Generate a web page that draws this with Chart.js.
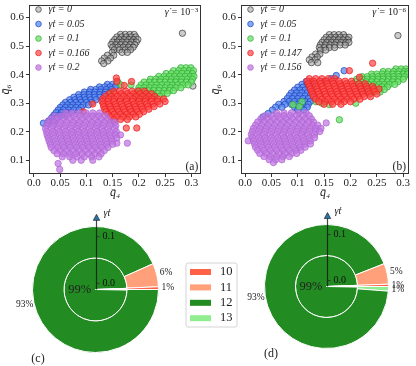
<!DOCTYPE html>
<html>
<head>
<meta charset="utf-8">
<script src="https://cdn.jsdelivr.net/npm/chart.js@4.4.0/dist/chart.umd.min.js"></script>
<style>
  html, body { margin: 0; padding: 0; background: #fff; }
  #wrap { position: relative; width: 416px; height: 366px; overflow: hidden; }
  canvas { position: absolute; }
</style>
</head>
<body>
<div id="wrap">
  <canvas id="chartA" width="206" height="200" style="left:0;top:0;width:206px;height:200px"></canvas>
  <canvas id="chartB" width="210" height="200" style="left:206px;top:0;width:210px;height:200px"></canvas>
  <canvas id="chartC" width="240" height="166" style="left:0;top:200px;width:240px;height:166px"></canvas>
  <canvas id="chartD" width="176" height="166" style="left:240px;top:200px;width:176px;height:166px"></canvas>
</div>
<script>
const FONT = "'Liberation Serif', 'DejaVu Serif', serif";

// ---- scatter panels (a) and (b) ----
const xTicks = [0, 0.05, 0.1, 0.15, 0.2, 0.25, 0.3];
const xTickLabels = ['0.0', '0.05', '0.1', '0.15', '0.2', '0.25', '0.3'];
const yTicks = [0.1, 0.2, 0.3, 0.4, 0.5, 0.6];
const yTickLabels = ['0.1', '0.2', '0.3', '0.4', '0.5', '0.6'];

const seriesA = ['γ̇t = 0', 'γ̇t = 0.05', 'γ̇t = 0.1', 'γ̇t = 0.166', 'γ̇t = 0.2'];
const seriesB = ['γ̇t = 0', 'γ̇t = 0.05', 'γ̇t = 0.1', 'γ̇t = 0.147', 'γ̇t = 0.156'];

// each row: [q6, q4, q4, ...]
const aGrey = [
  [0.541, 0.165, 0.174, 0.183, 0.191],
  [0.532, 0.158, 0.167, 0.176, 0.185, 0.194],
  [0.523, 0.154, 0.163, 0.172, 0.181, 0.190, 0.198],
  [0.514, 0.150, 0.159, 0.168, 0.177, 0.186, 0.195],
  [0.505, 0.147, 0.156, 0.165, 0.174, 0.183, 0.192],
  [0.496, 0.150, 0.160, 0.170, 0.180, 0.189],
  [0.487, 0.153, 0.163, 0.174, 0.184],
  [0.478, 0.149, 0.168, 0.178],
  [0.468, 0.140, 0.152],
  [0.458, 0.134, 0.146],
  [0.448, 0.129, 0.141],
  [0.439, 0.133],
  [0.545, 0.283],
  [0.360, 0.303]
];
const aBlue = [
  [0.366, 0.140, 0.150, 0.158],
  [0.357, 0.125, 0.135, 0.145, 0.155],
  [0.348, 0.108, 0.118, 0.128, 0.138, 0.148],
  [0.339, 0.096, 0.106, 0.116, 0.126, 0.136, 0.146],
  [0.330, 0.085, 0.095, 0.105, 0.115, 0.125, 0.135],
  [0.321, 0.076, 0.086, 0.096, 0.106, 0.116, 0.126],
  [0.312, 0.068, 0.078, 0.088, 0.098, 0.108, 0.118],
  [0.303, 0.060, 0.070, 0.080, 0.090, 0.100, 0.110],
  [0.294, 0.055, 0.064, 0.074, 0.084, 0.094, 0.104],
  [0.285, 0.050, 0.060, 0.070, 0.080, 0.090],
  [0.276, 0.046, 0.056, 0.066, 0.076, 0.086],
  [0.267, 0.042, 0.052, 0.062, 0.072],
  [0.258, 0.038, 0.048, 0.058],
  [0.249, 0.034, 0.044],
  [0.238, 0.028, 0.036],
  [0.230, 0.018, 0.026]
];
const aGreen = [
  [0.424, 0.280, 0.290, 0.299],
  [0.414, 0.266, 0.276, 0.286, 0.296, 0.304],
  [0.404, 0.252, 0.262, 0.272, 0.282, 0.292, 0.302],
  [0.394, 0.238, 0.248, 0.258, 0.268, 0.278, 0.288, 0.298, 0.305],
  [0.384, 0.222, 0.232, 0.242, 0.252, 0.262, 0.272, 0.282, 0.292, 0.302],
  [0.374, 0.210, 0.220, 0.230, 0.240, 0.250, 0.260, 0.270, 0.280, 0.290, 0.300, 0.160],
  [0.364, 0.204, 0.214, 0.224, 0.234, 0.244, 0.254, 0.264, 0.274, 0.284, 0.294, 0.166, 0.185],
  [0.354, 0.200, 0.210, 0.220, 0.230, 0.240, 0.250, 0.260, 0.270, 0.280],
  [0.344, 0.198, 0.208, 0.218, 0.228, 0.238, 0.248, 0.258, 0.266],
  [0.334, 0.196, 0.206, 0.216, 0.226, 0.236, 0.246, 0.254, 0.147],
  [0.324, 0.198, 0.208, 0.218, 0.230, 0.240],
  [0.316, 0.202, 0.214],
  [0.237, 0.153]
];
const aRed = [
  [0.388, 0.157],
  [0.376, 0.158, 0.186],
  [0.362, 0.172],
  [0.342, 0.152, 0.163, 0.175, 0.187, 0.199, 0.211],
  [0.333, 0.143, 0.154, 0.166, 0.178, 0.190, 0.202, 0.214, 0.224],
  [0.324, 0.136, 0.147, 0.159, 0.171, 0.183, 0.195, 0.207, 0.219, 0.230],
  [0.315, 0.131, 0.142, 0.153, 0.165, 0.177, 0.189, 0.201, 0.213, 0.225, 0.236, 0.247],
  [0.306, 0.130, 0.141, 0.152, 0.164, 0.176, 0.188, 0.200, 0.212, 0.224, 0.236, 0.250],
  [0.297, 0.132, 0.143, 0.155, 0.167, 0.179, 0.191, 0.203, 0.215, 0.227, 0.240, 0.112],
  [0.288, 0.133, 0.145, 0.157, 0.169, 0.181, 0.193, 0.205, 0.217, 0.229],
  [0.279, 0.135, 0.147, 0.159, 0.171, 0.183, 0.195, 0.207, 0.219],
  [0.270, 0.137, 0.149, 0.161, 0.173, 0.185, 0.197, 0.209, 0.094],
  [0.261, 0.141, 0.153, 0.165, 0.177, 0.189, 0.201],
  [0.252, 0.146, 0.158, 0.170, 0.182, 0.194],
  [0.243, 0.152, 0.165, 0.178],
  [0.213, 0.176, 0.196]
];
const aPurple = [
  [0.266, 0.060, 0.073, 0.086, 0.099, 0.112, 0.125],
  [0.255, 0.040, 0.052, 0.064, 0.076, 0.088, 0.100, 0.112, 0.124, 0.136],
  [0.244, 0.032, 0.044, 0.056, 0.068, 0.080, 0.092, 0.104, 0.116, 0.128, 0.140],
  [0.233, 0.026, 0.038, 0.050, 0.062, 0.074, 0.086, 0.098, 0.110, 0.122, 0.134, 0.146, 0.154],
  [0.222, 0.024, 0.036, 0.048, 0.060, 0.072, 0.084, 0.096, 0.108, 0.120, 0.132, 0.144, 0.156],
  [0.211, 0.022, 0.034, 0.046, 0.058, 0.070, 0.082, 0.094, 0.106, 0.118, 0.130, 0.142, 0.154],
  [0.200, 0.024, 0.036, 0.048, 0.060, 0.072, 0.084, 0.096, 0.108, 0.120, 0.132, 0.144, 0.157],
  [0.189, 0.025, 0.037, 0.049, 0.061, 0.073, 0.085, 0.097, 0.109, 0.121, 0.133, 0.145, 0.156, 0.165],
  [0.178, 0.027, 0.039, 0.051, 0.063, 0.075, 0.087, 0.099, 0.111, 0.123, 0.135, 0.147, 0.158],
  [0.167, 0.029, 0.041, 0.053, 0.065, 0.077, 0.089, 0.101, 0.113, 0.125, 0.137, 0.149],
  [0.160, 0.178, 0.158],
  [0.156, 0.031, 0.043, 0.055, 0.067, 0.079, 0.091, 0.103, 0.115, 0.127, 0.139, 0.150],
  [0.145, 0.033, 0.045, 0.057, 0.069, 0.081, 0.093, 0.105, 0.117, 0.129, 0.141],
  [0.134, 0.038, 0.050, 0.062, 0.074, 0.086, 0.098, 0.110, 0.122, 0.134],
  [0.123, 0.044, 0.056, 0.068, 0.080, 0.092, 0.104, 0.116, 0.128],
  [0.112, 0.054, 0.068, 0.082, 0.096, 0.110, 0.124],
  [0.100, 0.074, 0.090, 0.112],
  [0.089, 0.046],
  [0.068, 0.049]
];

const bGrey = [
  [0.540, 0.160, 0.169, 0.178, 0.187],
  [0.531, 0.154, 0.163, 0.172, 0.181, 0.190, 0.197],
  [0.522, 0.150, 0.159, 0.168, 0.177, 0.186, 0.195],
  [0.513, 0.146, 0.155, 0.164, 0.173, 0.182, 0.191, 0.197],
  [0.504, 0.143, 0.152, 0.161, 0.170, 0.180, 0.190],
  [0.495, 0.141, 0.150, 0.160, 0.170],
  [0.486, 0.143, 0.153],
  [0.472, 0.134, 0.142],
  [0.462, 0.127, 0.137],
  [0.452, 0.122, 0.133],
  [0.442, 0.126, 0.138],
  [0.537, 0.290]
];
const bBlue = [
  [0.414, 0.188],
  [0.397, 0.173],
  [0.386, 0.163],
  [0.376, 0.116, 0.126, 0.150],
  [0.366, 0.108, 0.118, 0.128],
  [0.356, 0.100, 0.110, 0.120, 0.130],
  [0.346, 0.094, 0.104, 0.114, 0.124],
  [0.336, 0.088, 0.098, 0.108, 0.118, 0.128],
  [0.326, 0.084, 0.094, 0.104, 0.114, 0.124],
  [0.316, 0.080, 0.090, 0.100, 0.110, 0.120, 0.130],
  [0.306, 0.074, 0.084, 0.094, 0.104, 0.114, 0.124],
  [0.296, 0.064, 0.076, 0.088, 0.100, 0.110, 0.120],
  [0.286, 0.058, 0.070, 0.094, 0.106, 0.118],
  [0.276, 0.052, 0.100, 0.112],
  [0.264, 0.044],
  [0.252, 0.034]
];
const bGreen = [
  [0.420, 0.286, 0.296, 0.305],
  [0.411, 0.262, 0.272, 0.282, 0.292, 0.302, 0.309],
  [0.402, 0.240, 0.250, 0.260, 0.270, 0.280, 0.290, 0.300, 0.308],
  [0.393, 0.222, 0.232, 0.242, 0.252, 0.262, 0.272, 0.282, 0.292, 0.302],
  [0.384, 0.212, 0.222, 0.232, 0.242, 0.252, 0.262, 0.272, 0.282, 0.292, 0.300],
  [0.375, 0.210, 0.220, 0.230, 0.240, 0.250, 0.260, 0.270, 0.280, 0.290],
  [0.366, 0.214, 0.224, 0.234, 0.244, 0.254, 0.264, 0.274, 0.284],
  [0.357, 0.220, 0.230, 0.240, 0.250, 0.260, 0.270],
  [0.348, 0.226, 0.236, 0.246, 0.256, 0.264],
  [0.339, 0.232, 0.244, 0.256],
  [0.305, 0.135, 0.108],
  [0.300, 0.146, 0.210],
  [0.295, 0.091, 0.160],
  [0.288, 0.103],
  [0.242, 0.179]
];
const bRed = [
  [0.440, 0.242],
  [0.414, 0.198],
  [0.391, 0.217],
  [0.386, 0.122, 0.134, 0.146, 0.158, 0.170],
  [0.377, 0.118, 0.130, 0.142, 0.154, 0.166, 0.178, 0.190, 0.202],
  [0.368, 0.120, 0.132, 0.144, 0.156, 0.168, 0.180, 0.192, 0.204, 0.216, 0.228],
  [0.359, 0.122, 0.134, 0.146, 0.158, 0.170, 0.182, 0.194, 0.206, 0.218, 0.230, 0.242],
  [0.350, 0.124, 0.136, 0.148, 0.160, 0.172, 0.184, 0.196, 0.208, 0.220, 0.232, 0.244, 0.254],
  [0.341, 0.126, 0.138, 0.150, 0.162, 0.174, 0.186, 0.198, 0.210, 0.222, 0.234, 0.246],
  [0.332, 0.128, 0.140, 0.152, 0.164, 0.176, 0.188, 0.200, 0.212, 0.224, 0.236, 0.250],
  [0.323, 0.130, 0.142, 0.154, 0.166, 0.178, 0.190, 0.202, 0.214, 0.226, 0.238],
  [0.314, 0.134, 0.146, 0.158, 0.170, 0.182, 0.194, 0.206, 0.218],
  [0.305, 0.140, 0.152, 0.164, 0.176, 0.188, 0.200],
  [0.296, 0.150, 0.166, 0.182]
];
const bPurple = [
  [0.266, 0.060, 0.074, 0.088, 0.102, 0.116],
  [0.256, 0.038, 0.050, 0.062, 0.074, 0.086, 0.098, 0.110, 0.122],
  [0.245, 0.030, 0.042, 0.054, 0.066, 0.078, 0.090, 0.102, 0.114, 0.126],
  [0.234, 0.024, 0.036, 0.048, 0.060, 0.072, 0.084, 0.096, 0.108, 0.120, 0.130],
  [0.231, 0.154],
  [0.223, 0.020, 0.032, 0.044, 0.056, 0.068, 0.080, 0.092, 0.104, 0.116, 0.128, 0.138],
  [0.212, 0.016, 0.028, 0.040, 0.052, 0.064, 0.076, 0.088, 0.100, 0.112, 0.124, 0.134, 0.144],
  [0.201, 0.014, 0.026, 0.038, 0.050, 0.062, 0.074, 0.086, 0.098, 0.110, 0.122, 0.134, 0.142],
  [0.190, 0.012, 0.024, 0.036, 0.048, 0.060, 0.072, 0.084, 0.096, 0.108, 0.120, 0.132],
  [0.179, 0.014, 0.026, 0.038, 0.050, 0.062, 0.074, 0.086, 0.098, 0.110, 0.122, 0.132],
  [0.168, 0.006, 0.016, 0.028, 0.040, 0.052, 0.064, 0.076, 0.088, 0.100, 0.112, 0.124],
  [0.157, 0.018, 0.030, 0.042, 0.054, 0.066, 0.078, 0.090, 0.102, 0.114, 0.124],
  [0.146, 0.020, 0.032, 0.044, 0.056, 0.068, 0.080, 0.092, 0.104, 0.114],
  [0.135, 0.024, 0.036, 0.048, 0.060, 0.072, 0.084, 0.096, 0.106],
  [0.124, 0.028, 0.040, 0.052, 0.064, 0.076, 0.088, 0.098],
  [0.113, 0.036, 0.048, 0.060, 0.072, 0.084],
  [0.102, 0.046, 0.058, 0.070],
  [0.092, 0.054]
];

const pointFill = ['rgba(160,160,160,0.55)', 'rgba(90,140,240,0.75)', 'rgba(105,225,105,0.75)', 'rgba(255,70,70,0.72)', 'rgba(190,118,225,0.72)'];
const pointEdge = ['rgba(40,40,40,0.9)', '#1f3fbf', '#34a834', '#e81e1e', '#b263d6'];

// ---- pies (c) and (d) ----
const pieCategories = ['10', '11', '12', '13'];
const pieColors = ['#ff6347', '#ffa07a', '#228b22', '#90ee90'];
const outerC = [0.7, 6.0, 93.3, 0];
const innerC = [0.3, 0.3, 99.1, 0.3];
const outerD = [0.6, 5.4, 92.8, 1.2];
const innerD = [0.3, 0.3, 99.1, 0.3];
const rTicks = [0.0, 0.1];
const rTickLabels = ['0.0', '0.1'];
const rRange = [-0.013, 0.122];
const rArrow = 0.148;

const toPoints = rows => rows.flatMap(([y, ...xs]) => xs.map(x => ({ x, y })));

const panelText = {
  id: 'panelText',
  afterDraw(chart, args, opts) {
    const { ctx, chartArea: a } = chart;
    ctx.save();
    ctx.strokeStyle = '#333';
    ctx.lineWidth = 1;
    ctx.strokeRect(Math.round(a.left) + 0.5, Math.round(a.top) + 0.5,
      Math.round(a.right - a.left) - 1, Math.round(a.bottom - a.top) - 1);
    ctx.fillStyle = '#222';
    ctx.textBaseline = 'middle';
    ctx.textAlign = 'right';
    let x = a.right - 3;
    ctx.font = '7px ' + FONT;
    ctx.fillText(opts.rate, x, a.top + 5);
    x -= ctx.measureText(opts.rate).width + 0.5;
    ctx.font = '10px ' + FONT;
    ctx.fillText('10', x, a.top + 8);
    x -= ctx.measureText('10').width;
    ctx.font = 'italic 10px ' + FONT;
    ctx.fillText('γ̇ = ', x, a.top + 8);
    ctx.font = '11.5px ' + FONT;
    ctx.fillText(opts.panel, a.right - 3, a.bottom - 7);
    ctx.restore();
  }
};

function scatterChart(id, labels, groups, xMin, xMax, axisW, padRight, yTitlePad, rate, panel) {
  const datasets = groups.map((rows, i) => ({
    label: labels[i],
    data: toPoints(rows),
    backgroundColor: pointFill[i],
    borderColor: pointEdge[i],
    borderWidth: 0.7,
    pointRadius: 3.2,
    order: groups.length - 1 - i
  }));
  const tickFont = { family: FONT, size: 11 };
  return new Chart(document.getElementById(id), {
    type: 'scatter',
    data: { datasets },
    options: {
      responsive: false,
      animation: false,
      events: [],
      layout: { padding: { left: 0, top: 1, right: padRight, bottom: 0 } },
      scales: {
        x: {
          type: 'linear', min: xMin, max: xMax,
          afterBuildTicks: s => { s.ticks = xTicks.map(v => ({ value: v })); },
          afterFit: s => { s.height = 26; s.paddingLeft = 0; s.paddingRight = 0; },
          ticks: { callback: (v, i) => xTickLabels[i], font: tickFont, color: '#222', padding: 0, maxRotation: 0, autoSkip: false },
          grid: { drawOnChartArea: false, tickLength: 3, color: '#333' },
          border: { display: false },
          title: { display: true, text: 'q̄₄', color: '#222', font: { family: FONT, size: 12, style: 'italic', lineHeight: 1 }, padding: { top: 0, bottom: 1 } }
        },
        y: {
          type: 'linear', min: 0.052, max: 0.645,
          afterBuildTicks: s => { s.ticks = yTicks.map(v => ({ value: v })); },
          afterFit: s => { s.width = axisW; s.paddingTop = 0; s.paddingBottom = 0; },
          ticks: { callback: (v, i) => yTickLabels[i], font: tickFont, color: '#222', padding: 2, autoSkip: false },
          grid: { drawOnChartArea: false, tickLength: 3, color: '#333' },
          border: { display: false },
          title: { display: true, text: 'q̄₆', color: '#222', font: { family: FONT, size: 12, style: 'italic', lineHeight: 1 }, padding: { top: yTitlePad, bottom: 0 } }
        }
      },
      plugins: {
        legend: {
          position: 'chartArea', align: 'start',
          labels: {
            usePointStyle: true, pointStyle: 'circle', boxWidth: 10, boxHeight: 4, padding: 4.5, color: '#222',
            font: { family: FONT, size: 10, style: 'italic' },
            sort: (p, q) => p.datasetIndex - q.datasetIndex
          }
        },
        tooltip: { enabled: false },
        panelText: { rate, panel }
      }
    },
    plugins: [panelText]
  });
}

scatterChart('chartA', seriesA, [aGrey, aBlue, aGreen, aRed, aPurple], -0.0095, 0.319, 29, 4, 0, '−3', '(a)');
scatterChart('chartB', seriesB, [bGrey, bBlue, bGreen, bRed, bPurple], -0.0076, 0.311, 35, 7, 4, '−6', '(b)');

const pieText = {
  id: 'pieText',
  afterDraw(chart, args, opts) {
    const ctx = chart.ctx;
    ctx.save();
    ctx.fillStyle = '#222';
    ctx.textAlign = 'center';
    ctx.textBaseline = 'middle';
    // percentages
    chart.data.datasets.forEach((ds, di) => {
      const meta = chart.getDatasetMeta(di);
      const total = ds.data.reduce((s, v) => s + v, 0);
      meta.data.forEach((arc, i) => {
        const pct = Math.round(ds.data[i] / total * 100);
        if (!pct) return;
        const mid = (arc.startAngle + arc.endAngle) / 2;
        const r = di === 0 ? arc.outerRadius * 1.15 : arc.outerRadius * 0.5;
        ctx.font = (di === 0 ? '9.5px ' : '12.5px ') + FONT;
        ctx.fillText(pct + '%', arc.x + r * Math.cos(mid), arc.y + r * Math.sin(mid));
      });
    });
    // radial axis with arrow
    const arc0 = chart.getDatasetMeta(0).data[0];
    const cx = Math.round(arc0.x) + 0.5, cy = arc0.y, R = arc0.outerRadius;
    const k = R / (rRange[1] - rRange[0]);
    const yOf = v => cy - (v - rRange[0]) * k;
    const tip = yOf(rArrow);
    ctx.strokeStyle = 'rgba(20,20,20,0.8)';
    ctx.lineWidth = 1.2;
    ctx.beginPath();
    ctx.moveTo(cx, cy);
    ctx.lineTo(cx, tip + 5);
    ctx.stroke();
    ctx.beginPath();
    ctx.moveTo(cx, tip);
    ctx.lineTo(cx - 3.2, tip + 6);
    ctx.lineTo(cx + 3.2, tip + 6);
    ctx.closePath();
    ctx.fillStyle = '#1f77b4';
    ctx.fill();
    ctx.lineWidth = 0.8;
    ctx.strokeStyle = '#333';
    ctx.stroke();
    ctx.fillStyle = '#111';
    ctx.textAlign = 'left';
    ctx.font = '10px ' + FONT;
    ctx.lineWidth = 1;
    rTicks.forEach((v, i) => {
      const y = yOf(v);
      ctx.beginPath();
      ctx.moveTo(cx, y);
      ctx.lineTo(cx + 3, y);
      ctx.stroke();
      ctx.fillText(rTickLabels[i], cx + 6, y);
    });
    ctx.font = 'italic 10px ' + FONT;
    ctx.fillText('γ̇t', cx + 7, tip - 1);
    // panel label
    ctx.textAlign = 'center';
    ctx.font = '12px ' + FONT;
    ctx.fillStyle = '#222';
    ctx.fillText(opts.panel, opts.panelX, opts.panelY);
    // shared legend
    if (opts.legend) {
      const { x, y, w, h } = opts.legend;
      const rr = 2;
      ctx.beginPath();
      ctx.moveTo(x + rr, y);
      ctx.arcTo(x + w, y, x + w, y + h, rr);
      ctx.arcTo(x + w, y + h, x, y + h, rr);
      ctx.arcTo(x, y + h, x, y, rr);
      ctx.arcTo(x, y, x + w, y, rr);
      ctx.closePath();
      ctx.fillStyle = 'rgba(255,255,255,0.8)';
      ctx.fill();
      ctx.strokeStyle = '#d4d4d4';
      ctx.lineWidth = 1;
      ctx.stroke();
      ctx.textAlign = 'left';
      ctx.font = '12.5px ' + FONT;
      pieCategories.forEach((name, i) => {
        const ry = y + 9 + i * 15.4;
        ctx.fillStyle = pieColors[i];
        ctx.fillRect(x + 4, ry - 3, 21, 6);
        ctx.fillStyle = '#222';
        ctx.fillText(name, x + 34, ry);
      });
    }
    ctx.restore();
  }
};

function pieChart(id, outer, inner, padding, textOpts) {
  const rev = a => a.slice().reverse();
  return new Chart(document.getElementById(id), {
    type: 'doughnut',
    data: {
      labels: rev(pieCategories),
      datasets: [
        { data: rev(outer), backgroundColor: rev(pieColors), borderColor: '#fff', borderWidth: 1 },
        { data: rev(inner), backgroundColor: rev(pieColors), borderColor: '#fff', borderWidth: 1 }
      ]
    },
    options: {
      responsive: false,
      animation: false,
      events: [],
      cutout: 0,
      rotation: 90,
      layout: { padding },
      plugins: { legend: { display: false }, tooltip: { enabled: false }, pieText: textOpts }
    },
    plugins: [pieText]
  });
}

pieChart('chartC', outerC, innerC, { left: 32, top: 26, right: 81, bottom: 13 },
  { panel: '(c)', panelX: 38, panelY: 159, legend: { x: 186, y: 63, w: 51, h: 64 } });
pieChart('chartD', outerD, innerD, { left: 24, top: 24, right: 27, bottom: 17 },
  { panel: '(d)', panelX: 31, panelY: 154 });
</script>
</body>
</html>
